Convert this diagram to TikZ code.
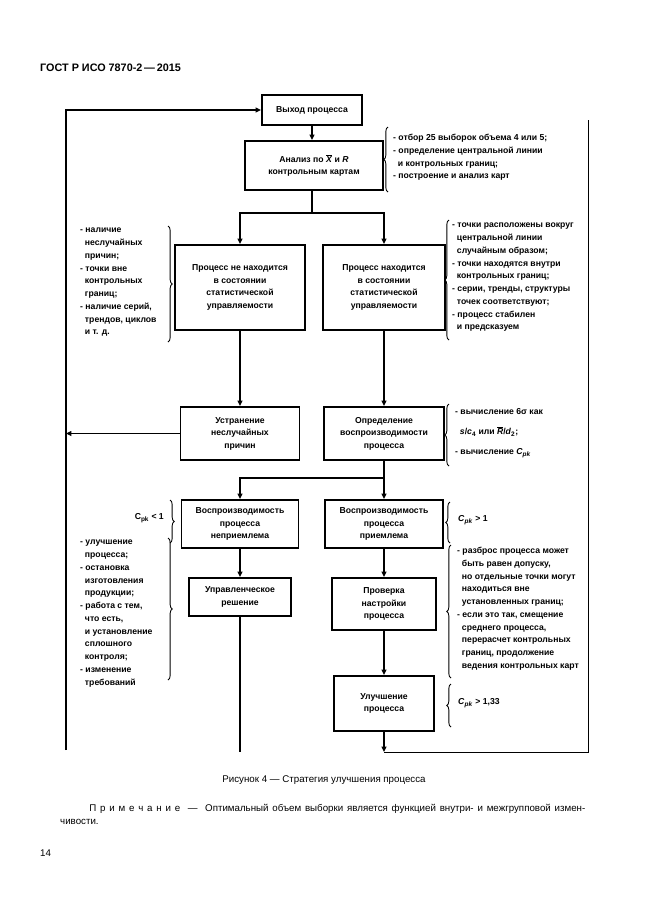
\documentclass[tikz,border=0pt]{standalone}
\usepackage{fontspec}
\setmainfont{Liberation Sans}
\usepackage{tikz}
\usetikzlibrary{positioning,arrows.meta,decorations.pathreplacing}
\newlength{\pxu}
\setlength{\pxu}{0.325mm}
\newcommand{\indt}{\hspace*{0.55em}}
\newcommand{\Cpk}{\textit{C}\textsubscript{\textit{pk}}}
\tikzstyle{block} = [rectangle, draw=black, line width=1.8pt, align=center, inner sep=1pt, font=\fontsize{8}{11.5}\selectfont\bfseries]
\tikzstyle{remark} = [align=left, inner sep=0pt, anchor=north west, font=\fontsize{8}{11.8}\selectfont\bfseries]
\tikzstyle{flow} = [line width=1.8pt]
\tikzstyle{arrow} = [line width=1.8pt, -{Triangle[length=5pt,width=4.5pt]}]
\tikzstyle{thinarrow} = [line width=0.9pt, -{Triangle[length=5pt,width=4.5pt]}]
\tikzstyle{thinline} = [line width=0.9pt]
\tikzstyle{curly} = [line width=0.8pt, decorate, decoration={brace, amplitude=4pt}]
\begin{document}
\begin{tikzpicture}[x=\pxu, y=-\pxu]
	\useasboundingbox (0,0) rectangle (646,913);
	\node (head) [anchor=west, inner sep=0pt, font=\fontsize{10}{12}\selectfont\bfseries] at (40,68) {ГОСТ Р ИСО 7870-2\,—\,2015};
	
	% блоки
	\node (out) [block, minimum width=100\pxu, minimum height=30\pxu] at (312,110) {Выход процесса};
	\node (anal) [block, minimum width=138\pxu, minimum height=49\pxu] at (314,165.5) {Анализ по $\overline{\mbox{\textit{X}}}$ и \textit{R}\\контрольным картам};
	\node (nst) [block, minimum width=130\pxu, minimum height=85\pxu] at (240,287.5) {Процесс не находится\\в состоянии\\статистической\\управляемости};
	\node (st) [block, minimum width=122\pxu, minimum height=85\pxu] at (384,287.5) {Процесс находится\\в состоянии\\статистической\\управляемости};
	\node (elim) [block, minimum width=119\pxu, minimum height=53\pxu] at (240,433.5) {Устранение\\неслучайных\\причин};
	\node (cap) [block, minimum width=120\pxu, minimum height=53\pxu] at (384,433.5) {Определение\\воспроизводимости\\процесса};
	\node (unacc) [block, minimum width=117\pxu, minimum height=48\pxu] at (240,524) {Воспроизводимость\\процесса\\неприемлема};
	\node (acc) [block, minimum width=118\pxu, minimum height=48\pxu] at (384,524) {Воспроизводимость\\процесса\\приемлема};
	\node (mgmt) [block, minimum width=102\pxu, minimum height=38\pxu] at (240,597) {Управленческое\\решение};
	\node (check) [block, minimum width=104\pxu, minimum height=52\pxu] at (384,604) {Проверка\\настройки\\процесса};
	\node (impr) [block, minimum width=100\pxu, minimum height=55\pxu] at (384,703.5) {Улучшение\\процесса};
	
	% пояснения
	\node (tanal) [remark] at (393,134) {- отбор 25 выборок объема 4 или 5;\\- определение центральной линии\\\indt и контрольных границ;\\- построение и анализ карт};
	\node (tnst) [remark] at (80,228) {- наличие\\\indt неслучайных\\\indt причин;\\- точки вне\\\indt контрольных\\\indt границ;\\- наличие серий,\\\indt трендов, циклов\\\indt и т. д.};
	\node (tst) [remark] at (452,223) {- точки расположены вокруг\\\indt центральной линии\\\indt случайным образом;\\- точки находятся внутри\\\indt контрольных границ;\\- серии, тренды, структуры\\\indt точек соответствуют;\\- процесс стабилен\\\indt и предсказуем};
	\node (tcap) [remark] at (455,408) {- вычисление 6σ как\\[7pt]\indt \textit{s}/\textit{c}\textsubscript{4} или $\overline{\mbox{\textit{R}}}$/\textit{d}\textsubscript{2};\\[7pt]- вычисление \Cpk};
	\node (tlow) [remark, anchor=east] at (164,518) {C\textsubscript{pk} < 1};
	\node (thigh) [remark, anchor=west] at (458,520) {\Cpk{} > 1};
	\node (tunacc) [remark] at (80,540) {- улучшение\\\indt процесса;\\- остановка\\\indt изготовления\\\indt продукции;\\- работа с тем,\\\indt что есть,\\\indt и установление\\\indt сплошного\\\indt контроля;\\- изменение\\\indt требований};
	\node (tacc) [remark] at (457,547) {- разброс процесса может\\\indt быть равен допуску,\\\indt но отдельные точки могут\\\indt находиться вне\\\indt установленных границ;\\- если это так, смещение\\\indt среднего процесса,\\\indt перерасчет контрольных\\\indt границ, продолжение\\\indt ведения контрольных карт};
	\node (timpr) [remark, anchor=west] at (458,703) {\Cpk{} > 1,33};
	
	% скобки
	\draw [curly] (388,192) -- (388,127);
	\draw [curly] (168,226) -- (168,342);
	\draw [curly] (449,340) -- (449,220);
	\draw [curly] (449,466) -- (449,404);
	\draw [curly] (170,500) -- (170,543);
	\draw [curly] (450,543) -- (450,502);
	\draw [curly] (168,538) -- (168,680);
	\draw [curly] (451,678) -- (451,545);
	\draw [curly] (451,727) -- (451,684);
	
	% точки соединения
	\coordinate (s1) at (312,213);
	\coordinate (s2) at (384,478);
	\coordinate (fb) at (66,750);
	\coordinate (mb) at (240,752);
	\coordinate (ib) at (384,752);
	\coordinate (rt) at (588,120);
	
	%соединения
	\draw [arrow](out.south) -- (out.south |- anal.north);
	\draw [flow](anal.south -| s1) -- (s1);
	\draw [flow]([xshift=-0.9pt]nst.north |- s1) -- ([xshift=0.9pt]st.north |- s1);
	\draw [arrow](nst.north |- s1) -- (nst.north);
	\draw [arrow](st.north |- s1) -- (st.north);
	\draw [arrow](nst) -- (elim);
	\draw [arrow](st) -- (cap);
	\draw [thinarrow](elim.west) -- (elim.west -| fb);
	\draw [arrow](fb) |- (out.west);
	\draw [flow](cap.south) -- (s2);
	\draw [flow]([xshift=-0.9pt]unacc.north |- s2) -- ([xshift=0.9pt]s2);
	\draw [arrow](unacc.north |- s2) -- (unacc.north);
	\draw [arrow](s2) -- (acc.north);
	\draw [arrow](unacc) -- (mgmt);
	\draw [arrow](acc) -- (check);
	\draw [arrow](check) -- (impr);
	\draw [flow](mgmt.south) -- (mb);
	\draw [arrow](impr.south) -- (ib);
	\draw [thinline](ib) -| (rt);
	
	% подпись
	\node (capt) [font=\fontsize{9}{12}\selectfont] at (324,780) {Рисунок 4 — Стратегия улучшения процесса};
	\node (note) [anchor=north west, inner sep=0pt, text width=525\pxu, align=justify, font=\fontsize{9}{12}\selectfont] at (60,804) {\hspace*{27pt}П р и м е ч а н и е \ — \ Оптимальный объем выборки является функцией внутри- и межгрупповой измен-\linebreak чивости.};
	\node (page) [anchor=west, inner sep=0pt, font=\fontsize{9}{12}\selectfont] at (40,853) {14};
\end{tikzpicture}
\end{document}
